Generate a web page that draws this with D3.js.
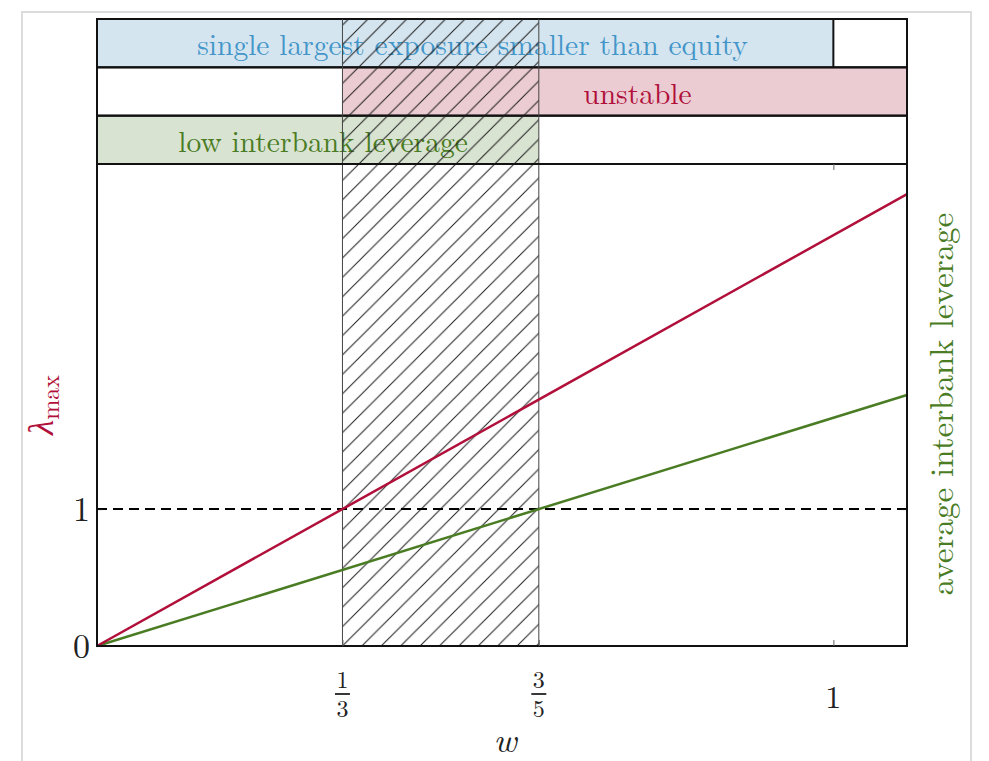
<!DOCTYPE html>
<html><head><meta charset="utf-8">
<script src="https://cdn.jsdelivr.net/npm/d3@7"></script>
<style>body{margin:0;background:#fff}svg{display:block}</style>
</head><body>
<script>
// ---- data ----
const wDomain = [0, 1.1];
const lambdaDomain = [0, 3.52];
const wTicks = [1/3, 3/5, 1];
const wTickLabels = [["1","3"], ["3","5"], ["1"]];
const yTicks = [0, 1];
const yTickLabels = ["0", "1"];
const lineW = [0, 1.1];
const lambdaMaxValues = [0, 3.3];
const leverageValues = [0, 1.8333];
const thresholdValue = 1;
const bandNames = ["single largest exposure smaller than equity", "unstable", "low interbank leverage"];
const bandStart = [0, 1/3, 0];
const bandEnd = [1, 1.1, 3/5];
const bandLabelW = [0.51, 0.734, 0.307];
const hatchRange = [1/3, 3/5];

// ---- layout ----
const W = 989, H = 761;
const mLeft = 97, mRight = 907, mTop = 164, mBottom = 646, bandTop = 19;
const serif = "'Latin Modern Roman','CMU Serif','Liberation Serif','DejaVu Serif',serif";
const red = "#b0103a", green = "#4a7c24", blue = "#4496c9";
const bandFill = ["#d5e5f0", "#ecccd3", "#d9e3d1"];
const bandText = [blue, red, green];

const svg = d3.select("body").append("svg").attr("width", W).attr("height", H);
svg.append("rect").attr("x", 22).attr("y", 12).attr("width", 949).attr("height", H + 20)
  .attr("fill", "none").attr("stroke", "#dcdcdc").attr("stroke-width", 2);

const x = d3.scaleLinear().domain(wDomain).range([mLeft, mRight]);
const y = d3.scaleLinear().domain(lambdaDomain).range([mBottom, mTop]);
const rowY = d3.scaleBand().domain(d3.range(bandNames.length)).range([bandTop, mTop]);

const defs = svg.append("defs");
const pat = defs.append("pattern").attr("id", "hatch").attr("patternUnits", "userSpaceOnUse")
  .attr("width", 19.4).attr("height", 19.4).attr("x", x(hatchRange[0])).attr("y", mBottom);
pat.append("path").attr("d", "M-4.85,4.85 L4.85,-4.85 M0,19.4 L19.4,0 M14.55,24.25 L24.25,14.55")
  .attr("stroke", "#1a1a1a").attr("stroke-width", 1);

// band rows fills + labels
const rows = svg.append("g");
bandNames.forEach((name, i) => {
  rows.append("rect").attr("x", x(bandStart[i])).attr("y", rowY(i))
    .attr("width", x(bandEnd[i]) - x(bandStart[i])).attr("height", rowY.bandwidth())
    .attr("fill", bandFill[i]);
});
bandNames.forEach((name, i) => {
  rows.append("text").attr("x", x(bandLabelW[i])).attr("y", rowY(i) + rowY.bandwidth() / 2 + 2)
    .attr("dy", "0.35em").attr("text-anchor", "middle")
    .attr("font-family", serif).attr("font-size", 29.5).attr("fill", bandText[i]).text(name);
});

// hatch area
svg.append("rect").attr("x", x(hatchRange[0])).attr("y", bandTop)
  .attr("width", x(hatchRange[1]) - x(hatchRange[0])).attr("height", mBottom - bandTop)
  .attr("fill", "url(#hatch)");
hatchRange.forEach(v => {
  svg.append("line").attr("x1", x(v)).attr("x2", x(v)).attr("y1", bandTop).attr("y2", mBottom)
    .attr("stroke", "#444").attr("stroke-width", 1);
});

// row borders
bandNames.forEach((name, i) => {
  rows.append("rect").attr("x", mLeft).attr("y", rowY(i)).attr("width", mRight - mLeft)
    .attr("height", rowY.bandwidth()).attr("fill", "none").attr("stroke", "#111").attr("stroke-width", 2);
});
svg.append("line").attr("x1", x(bandEnd[0])).attr("x2", x(bandEnd[0]))
  .attr("y1", rowY(0)).attr("y2", rowY(0) + rowY.bandwidth()).attr("stroke", "#111").attr("stroke-width", 2);

// threshold
svg.append("line").attr("x1", mLeft).attr("x2", mRight).attr("y1", y(thresholdValue)).attr("y2", y(thresholdValue))
  .attr("stroke", "#000").attr("stroke-width", 2).attr("stroke-dasharray", "10,6");

// lines
const lineGen = d3.line().x(d => x(d[0])).y(d => y(d[1]));
svg.append("path").datum(lineW.map((w, i) => [w, leverageValues[i]])).attr("d", lineGen)
  .attr("fill", "none").attr("stroke", green).attr("stroke-width", 2.5);
svg.append("path").datum(lineW.map((w, i) => [w, lambdaMaxValues[i]])).attr("d", lineGen)
  .attr("fill", "none").attr("stroke", red).attr("stroke-width", 2.5);

// axes frame
svg.append("rect").attr("x", mLeft).attr("y", mTop).attr("width", mRight - mLeft).attr("height", mBottom - mTop)
  .attr("fill", "none").attr("stroke", "#111").attr("stroke-width", 2);

// ticks
const ax = svg.append("g");
ax.append("g").attr("transform", `translate(0,${mBottom})`)
  .call(d3.axisBottom(x).tickValues(wTicks).tickSize(-6).tickFormat(""))
  .call(g => { g.select(".domain").remove(); g.selectAll("line").attr("stroke", "#666"); });
ax.append("g").attr("transform", `translate(0,${mTop})`)
  .call(d3.axisTop(x).tickValues([wTicks[2]]).tickSize(-6).tickFormat(""))
  .call(g => { g.select(".domain").remove(); g.selectAll("line").attr("stroke", "#666"); });
ax.append("g").attr("transform", `translate(${mLeft},0)`)
  .call(d3.axisLeft(y).tickValues(yTicks).tickSize(-6).tickFormat(""))
  .call(g => { g.select(".domain").remove(); g.selectAll("line").attr("stroke", "#111"); });
ax.append("g").attr("transform", `translate(${mRight},0)`)
  .call(d3.axisRight(y).tickValues(yTicks).tickSize(-6).tickFormat(""))
  .call(g => { g.select(".domain").remove(); g.selectAll("line").attr("stroke", "#111"); });

// y tick labels
yTicks.forEach((v, i) => {
  svg.append("text").attr("x", mLeft - 7).attr("y", y(v)).attr("dy", "0.35em").attr("text-anchor", "end")
    .attr("font-family", serif).attr("font-size", 34).attr("fill", "#222").text(yTickLabels[i]);
});
// x tick labels
wTicks.forEach((v, i) => {
  const lab = wTickLabels[i];
  const g = svg.append("g").attr("transform", `translate(${x(v)},0)`)
    .attr("font-family", serif).attr("fill", "#222").attr("text-anchor", "middle");
  if (lab.length === 2) {
    g.append("text").attr("y", 688).attr("font-size", 24).text(lab[0]);
    g.append("line").attr("x1", -7.5).attr("x2", 7.5).attr("y1", 694).attr("y2", 694).attr("stroke", "#222").attr("stroke-width", 1.8);
    g.append("text").attr("y", 717).attr("font-size", 24).text(lab[1]);
  } else {
    g.append("text").attr("y", 708).attr("font-size", 32).text(lab[0]);
  }
});

// axis titles
svg.append("text").attr("x", 505).attr("y", 752).attr("text-anchor", "middle")
  .attr("font-family", serif).attr("font-style", "italic").attr("font-size", 35).attr("fill", "#222").text("w");
const yl = svg.append("text").attr("transform", "translate(53,405) rotate(-90)").attr("text-anchor", "middle")
  .attr("font-family", serif).attr("fill", red);
yl.append("tspan").attr("font-size", 35).attr("font-style", "italic").text("λ");
yl.append("tspan").attr("font-size", 24).attr("dy", 6).text("max");
svg.append("text").attr("transform", "translate(953,404) rotate(-90)").attr("text-anchor", "middle")
  .attr("font-family", serif).attr("font-size", 33).attr("fill", green).text("average interbank leverage");
</script>
</body></html>
